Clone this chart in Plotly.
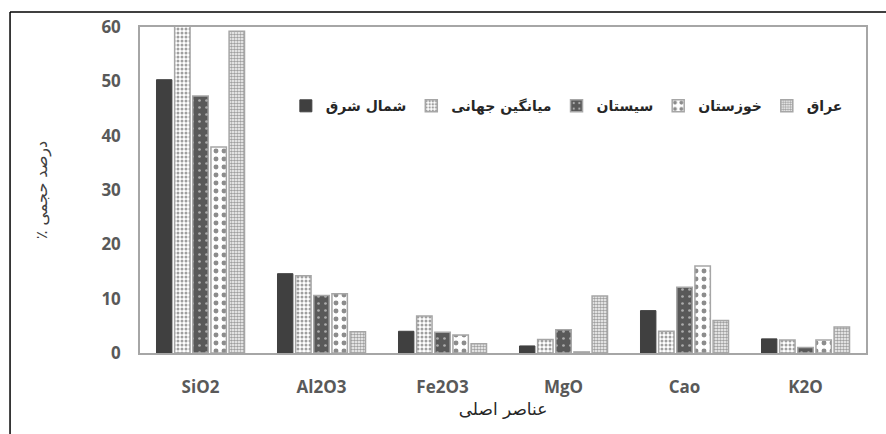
import plotly.graph_objects as go

categories = ["SiO2", "Al2O3", "Fe2O3", "MgO", "Cao", "K2O"]
series_names = ["شمال شرق", "میانگین جهانی", "سیستان", "خوزستان", "عراق"]
shamal_shargh = [50.3, 14.6, 4.0, 1.3, 7.8, 2.6]
miangin_jahani = [60.2, 14.2, 6.8, 2.5, 4.0, 2.4]
sistan = [47.3, 10.6, 3.8, 4.3, 12.1, 1.0]
khuzestan = [37.9, 10.9, 3.3, 0.2, 16.0, 2.4]
iraq = [59.2, 3.9, 1.7, 10.5, 6.0, 4.8]

y_ticks = [0, 10, 20, 30, 40, 50, 60]

series_values = [shamal_shargh, miangin_jahani, sistan, khuzestan, iraq]

styles = [
    dict(color="#404040", pattern=dict(shape=""), line=dict(color="#404040", width=1)),
    dict(color="white", pattern=dict(shape=".", fgcolor="#404040", bgcolor="white", size=4, solidity=0.45, fillmode="overlay"),
         line=dict(color="#a6a6a6", width=1.5)),
    dict(color="#595959", pattern=dict(shape=".", fgcolor="white", bgcolor="#595959", size=7, solidity=0.12, fillmode="overlay"),
         line=dict(color="#a6a6a6", width=1.5)),
    dict(color="white", pattern=dict(shape=".", fgcolor="#1a1a1a", bgcolor="white", size=8, solidity=0.3, fillmode="overlay"),
         line=dict(color="#a6a6a6", width=1.5)),
    dict(color="white", pattern=dict(shape=".", fgcolor="#404040", bgcolor="white", size=3, solidity=0.6, fillmode="overlay"),
         line=dict(color="#a6a6a6", width=1.5)),
]

fig = go.Figure()
for name, vals, st in zip(series_names, series_values, styles):
    fig.add_trace(go.Bar(x=categories, y=vals, name=name, marker=st))

fig.update_layout(
    width=886, height=434,
    margin=dict(l=140, r=20, t=27, b=81),
    paper_bgcolor="white", plot_bgcolor="white",
    barmode="group", bargap=0.25, bargroupgap=0.15,
    showlegend=True,
    legend=dict(orientation="h", x=0.975, xanchor="right", y=0.757, yanchor="middle",
                font=dict(family="DejaVu Sans", size=14, color="#262626", weight="bold"),
                bgcolor="rgba(0,0,0,0)", itemwidth=30, traceorder="normal"),
    xaxis=dict(showgrid=False, showline=True, linecolor="#a6a6a6", linewidth=1.5, mirror=True,
               ticks="outside", ticklen=18, tickcolor="rgba(0,0,0,0)",
               tickfont=dict(family="Open Sans", size=17, color="#595959", weight="bold"),
               title=dict(text="عناصر اصلی", font=dict(family="DejaVu Sans", size=17, color="#262626"), standoff=6)),
    yaxis=dict(range=[0, 60], tickvals=y_ticks, showgrid=False, showline=True, linecolor="#a6a6a6",
               linewidth=1.5, mirror=True, zeroline=False,
               ticks="outside", ticklen=14, tickcolor="rgba(0,0,0,0)",
               tickfont=dict(family="Open Sans", size=17, color="#595959", weight="bold"),
               title=dict(text="درصد حجمی ٪\u200f", font=dict(family="DejaVu Sans", size=16, color="#404040"), standoff=50)),
    shapes=[
        dict(type="line", xref="paper", yref="paper", x0=-0.179, x1=1.03, y0=1.046, y1=1.046,
             line=dict(color="black", width=1.5)),
        dict(type="line", xref="paper", yref="paper", x0=-0.179, x1=-0.179, y0=1.046, y1=-0.26,
             line=dict(color="black", width=1.5)),
    ],
)

fig.write_html("out.html", config={"displayModeBar": False},
               post_script="document.body.style.margin='0';")
